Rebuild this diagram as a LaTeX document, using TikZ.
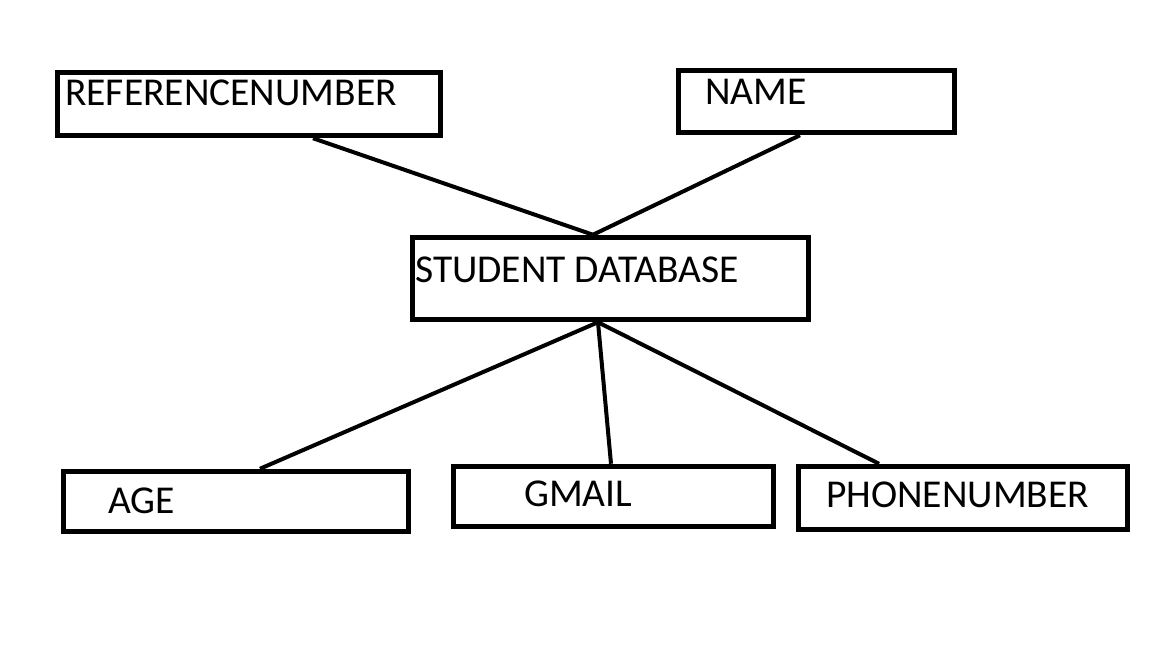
\documentclass[tikz,border=0pt]{standalone}
\usepackage{fontspec}
\setmainfont{Carlito}

\begin{document}
\begin{tikzpicture}[x=1pt, y=-1pt, box/.style={rectangle, draw, line width=5.5pt, inner sep=0pt}, lbl/.style={anchor=base west, inner sep=0pt, font=\fontsize{39.5}{42}\selectfont}, link/.style={line width=4pt}]

            \useasboundingbox (0,0) rectangle (1152,648);

            \node[box, minimum width=383pt, minimum height=63pt] (ref) at (249,104) {};
            \node[box, minimum width=276pt, minimum height=62pt] (name) at (816.5,101.5) {};
            \node[box, minimum width=396pt, minimum height=82pt] (sd) at (610.5,278.5) {};
            \node[box, minimum width=345pt, minimum height=60pt] (age) at (236,501.5) {};
            \node[box, minimum width=320pt, minimum height=60pt] (gmail) at (613.5,496.5) {};
            \node[box, minimum width=329pt, minimum height=63pt] (phone) at (963,498) {};

            \node[lbl] (reftxt) at (65,105) {REFERENCENUMBER};
            \node[lbl] (nametxt) at (705,104) {NAME};
            \node[lbl] (sdtxt) at (415,282) {STUDENT DATABASE};
            \node[lbl] (agetxt) at (108,513) {AGE};
            \node[lbl] (gmailtxt) at (524,506) {GMAIL};
            \node[lbl] (phonetxt) at (826,507) {PHONENUMBER};


            \path[link]
            ([xshift=64pt]ref.south) edge ([xshift=-17.5pt]sd.north)
            ([xshift=-16.5pt]name.south) edge ([xshift=-17.5pt]sd.north)
            ([xshift=-12.5pt]sd.south) edge ([xshift=24pt]age.north)
            ([xshift=-12.5pt]sd.south) edge ([xshift=-2.5pt]gmail.north)
            ([xshift=-12.5pt]sd.south) edge ([xshift=-84pt]phone.north);

        \end{tikzpicture}
\end{document}
